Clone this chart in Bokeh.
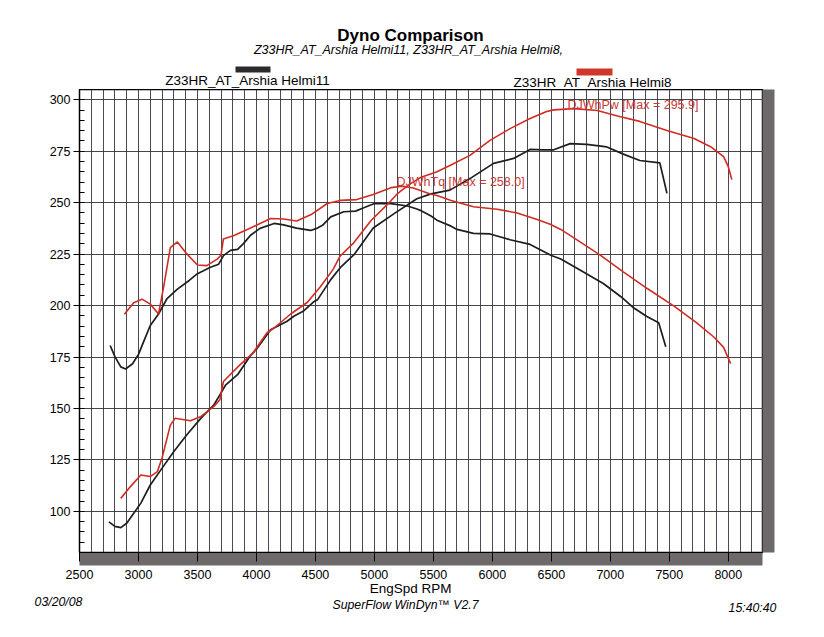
from bokeh.plotting import figure
from bokeh.layouts import column, row
from bokeh.models import (Label, SingleIntervalTicker, Range1d, LinearAxis,
                          CustomLabelingPolicy)
from bokeh.embed import file_html
from bokeh.resources import INLINE

# ---------------- data ----------------
h11_tq_rpm = [2760, 2800, 2850, 2890, 2950, 3000, 3050, 3100, 3170, 3240, 3330, 3430, 3500,
              3610, 3680, 3720, 3780, 3840, 3890, 3950, 4030, 4150, 4230, 4340, 4460, 4510,
              4560, 4630, 4740, 4840, 4910, 5000, 5140, 5280, 5360, 5400, 5480, 5530, 5650,
              5700, 5840, 5980, 6150, 6320, 6410, 6500, 6580, 6750, 6940, 7090, 7200, 7310,
              7410, 7470]
h11_tq = [180.6, 175.2, 170.2, 169.2, 171.7, 176.3, 183.3, 190.3, 195.9, 203.2, 208.0, 212.2,
          215.5, 218.6, 220.1, 224.3, 226.8, 227.3, 230.1, 234.2, 237.5, 239.9, 239.2, 237.6,
          236.5, 237.5, 239.0, 243.1, 245.6, 245.9, 247.5, 249.6, 249.5, 248.4, 246.9, 246.0,
          243.5, 241.5, 238.6, 237.0, 235.1, 234.8, 232.0, 229.7, 227.0, 224.3, 222.6, 217.0,
          210.7, 204.3, 198.8, 194.7, 191.6, 180.0]

h11_hp_rpm = [2750, 2800, 2850, 2900, 2930, 3020, 3100, 3200, 3300, 3410, 3530, 3640, 3700,
              3740, 3840, 3950, 4000, 4120, 4260, 4320, 4400, 4490, 4520, 4630, 4710, 4800,
              4830, 4990, 5170, 5360, 5480, 5640, 5810, 6010, 6180, 6320, 6430, 6520, 6660,
              6800, 6970, 7110, 7250, 7420, 7480]
h11_hp = [94.9, 92.7, 92.1, 94.2, 96.6, 104.0, 112.8, 121.0, 129.1, 137.2, 145.3, 151.8, 157.6,
          161.5, 166.4, 175.7, 178.8, 188.3, 192.4, 194.9, 197.4, 202.0, 203.0, 212.6, 218.4,
          223.3, 224.9, 237.7, 244.8, 251.9, 254.3, 256.1, 261.7, 269.1, 271.5, 275.9, 275.7,
          275.7, 278.7, 278.3, 277.1, 273.6, 270.5, 269.3, 254.5]

h8_tq_rpm = [2880, 2960, 3030, 3100, 3170, 3215, 3270, 3330, 3410, 3500, 3580, 3670, 3700,
             3720, 3810, 3950, 4120, 4230, 4340, 4460, 4600, 4710, 4850, 4990, 5140, 5240,
             5330, 5480, 5530, 5650, 5840, 6040, 6210, 6380, 6490, 6580, 6750, 6920, 7110,
             7310, 7540, 7730, 7880, 7960, 8020]
h8_tq = [195.8, 201.4, 203.1, 200.7, 195.9, 209.6, 228.2, 230.9, 225.1, 219.7, 219.4, 222.7,
         224.6, 232.4, 234.1, 237.7, 242.3, 242.1, 241.1, 244.1, 249.6, 251.1, 251.5, 254.0,
         257.3, 258.0, 257.1, 254.1, 253.5, 251.1, 248.0, 246.8, 245.0, 241.8, 239.5, 237.0,
         230.7, 224.3, 216.4, 208.4, 199.7, 191.7, 184.6, 179.7, 171.8]

h8_hp_rpm = [2850, 2930, 3020, 3100, 3160, 3200, 3270, 3310, 3440, 3530, 3640, 3690, 3720,
             3860, 3970, 4090, 4150, 4290, 4430, 4540, 4650, 4710, 4820, 4970, 5140, 5190,
             5300, 5390, 5530, 5640, 5810, 5980, 6150, 6320, 6460, 6520, 6690, 6890, 7060,
             7250, 7480, 7710, 7850, 7960, 8000, 8030]
h8_hp = [106.3, 111.9, 117.7, 116.9, 119.3, 125.9, 141.9, 145.2, 144.0, 146.1, 151.0, 154.2,
         163.1, 171.2, 176.9, 186.8, 189.1, 195.9, 201.5, 209.0, 217.6, 224.1, 230.2, 241.2,
         250.9, 254.1, 259.0, 262.2, 265.0, 268.1, 273.0, 280.3, 286.0, 290.9, 294.3, 295.1,
         295.7, 294.8, 292.1, 289.5, 285.1, 281.2, 277.2, 272.4, 267.5, 261.2]

series_names = ["Z33HR_AT_Arshia Helmi11", "Z33HR_AT_Arshia Helmi8"]
tq_note = "DJWhTq [Max = 258.0]"
hp_note = "DJWhPw [Max = 295.9]"

# ---------------- layout ----------------
W = 824
XMIN, XMAX = 2500, 8290
YMIN, YMAX = 80, 305
FL, FR = 79, 762          # frame left/right (page px)
FT, FB = 89, 553          # frame top/bottom (page px)
MAIN_BOTTOM = 581         # bottom of the main figure (page px)
SX = (FR - FL) / (XMAX - XMIN)
SY = (FB - FT) / (YMAX - YMIN)

def dx(px):
    return XMIN + (px - FL) / SX

def dy(py):
    return YMIN + (FB - py) / SY

FONT = "Liberation Sans"
BLACK = "#1e1e1e"
RED = "#d22c22"
SHADOW = "#6d6869"

HIDE_LABELS_JS = """
if (typeof indices.clear === 'function') { indices.clear(); return indices; }
for (const i of Array.from(indices)) { indices.unset(i); }
return indices;
"""

def no_align(f):
    if "frame_align" in f.properties():
        f.frame_align = False
        return True
    return False

def blank_fig(top, bottom):
    f = figure(width=W, height=bottom - top, output_backend="svg", toolbar_location=None,
               x_range=Range1d(0, W), y_range=Range1d(bottom, top),
               x_axis_location=None, y_axis_location=None, min_border=0)
    f.grid.visible = False
    f.outline_line_color = None
    f.background_fill_color = "white"
    f.border_fill_color = "white"
    return f

def add_label(f, text, x, y, size="12px", style="normal", color="black", align="center"):
    f.add_layout(Label(x=x, y=y, text=text, text_font=FONT, text_font_size=size,
                       text_font_style=style, text_color=color, text_align=align,
                       text_baseline="middle"))

# ---------------- header ----------------
head = blank_fig(0, FT)
add_label(head, "Dyno Comparison", 410, 35, size="17px", style="bold")
add_label(head, ", ".join(series_names) + ",", 408, 49, size="12.5px", style="italic")
head.quad(left=[235, 576], right=[270, 612], top=[66, 68], bottom=[72, 75],
          fill_color=["#2b2b2b", "#d0362a"], line_color=None)
add_label(head, series_names[0], 247, 80, size="13.5px")
add_label(head, series_names[1], 592, 82, size="13.5px")

# ---------------- main chart ----------------
p = figure(width=W, height=MAIN_BOTTOM - FT, output_backend="svg", toolbar_location=None,
           x_range=Range1d(XMIN, XMAX), y_range=Range1d(YMIN, YMAX),
           min_border_left=FL, min_border_right=W - FR,
           min_border_top=0, min_border_bottom=MAIN_BOTTOM - FB)
p.background_fill_color = "white"
p.border_fill_color = "white"
p.outline_line_color = "black"
p.outline_line_width = 1.5

p.xgrid.ticker = SingleIntervalTicker(interval=100)
p.ygrid.ticker = SingleIntervalTicker(interval=25)
p.xgrid.grid_line_color = "#2a2a3c"
p.xgrid.grid_line_alpha = 0.85
p.ygrid.grid_line_color = "#333333"
p.ygrid.grid_line_alpha = 0.9

# y axis
p.yaxis.ticker = SingleIntervalTicker(interval=25, num_minor_ticks=5)
p.yaxis.major_label_text_font = FONT
p.yaxis.major_label_text_font_size = "12.5px"
p.yaxis.major_label_text_color = "black"
p.yaxis.axis_line_color = "black"
p.yaxis.major_tick_line_color = "black"
p.yaxis.major_tick_in = 0
p.yaxis.major_tick_out = 6
p.yaxis.minor_tick_in = 5
p.yaxis.minor_tick_out = 0
p.yaxis.minor_tick_line_color = "black"
p.yaxis.major_label_standoff = 3

# x axis nearest the frame: grey shadow band with the tick marks, labels hidden
ax1 = p.xaxis[0]
ax1.ticker = SingleIntervalTicker(interval=500, num_minor_ticks=0)
ax1.major_tick_in = 0
ax1.major_tick_out = 9
ax1.major_tick_line_color = "black"
ax1.minor_tick_line_color = None
ax1.axis_line_color = "black"
ax1.major_label_text_font_size = "1px"
ax1.major_label_standoff = 0
ax1.major_label_policy = CustomLabelingPolicy(code=HIDE_LABELS_JS)
ax1.background_fill_color = SHADOW
ax1.background_fill_alpha = 1

# x axis with the tick labels
ax2 = LinearAxis(ticker=SingleIntervalTicker(interval=500, num_minor_ticks=0))
ax2.major_tick_in = 0
ax2.major_tick_out = 0
ax2.major_tick_line_color = None
ax2.minor_tick_line_color = None
ax2.axis_line_color = None
ax2.major_label_text_font = FONT
ax2.major_label_text_font_size = "12.5px"
ax2.major_label_text_color = "black"
ax2.major_label_standoff = 4
p.add_layout(ax2, "below")

# right shadow band
axr = LinearAxis(ticker=SingleIntervalTicker(interval=25, num_minor_ticks=0))
axr.major_tick_in = 0
axr.major_tick_out = 7
axr.major_tick_line_color = SHADOW
axr.minor_tick_line_color = None
axr.axis_line_color = None
axr.major_label_text_font_size = "1px"
axr.major_label_standoff = 0
axr.major_label_policy = CustomLabelingPolicy(code=HIDE_LABELS_JS)
axr.background_fill_color = SHADOW
axr.background_fill_alpha = 1
p.add_layout(axr, "right")

# curves
p.line(h11_tq_rpm, h11_tq, line_color=BLACK, line_width=1.7)
p.line(h11_hp_rpm, h11_hp, line_color=BLACK, line_width=1.7)
p.line(h8_tq_rpm, h8_tq, line_color=RED, line_width=1.6)
p.line(h8_hp_rpm, h8_hp, line_color=RED, line_width=1.6)

add_label(p, hp_note, dx(567), dy(105), size="12.5px", color="#c83a34", align="left")
add_label(p, tq_note, dx(396), dy(182), size="12.5px", color="#c83a34", align="left")

# ---------------- footer ----------------
foot = blank_fig(MAIN_BOTTOM, 637)
add_label(foot, "EngSpd  RPM", 412, 588, size="13.5px")
add_label(foot, "03/20/08", 58, 601, size="12.3px", style="italic")
add_label(foot, "SuperFlow WinDyn\u2122 V2.7", 405, 604, size="12.3px", style="italic")
add_label(foot, "15:40:40", 752, 607, size="12.3px", style="italic")

# only the header and footer opt out of frame alignment
ok = all([no_align(head), no_align(foot)])
if ok:
    layout = column(head, p, foot, spacing=0)
else:
    layout = column(head, row(p), foot, spacing=0)
open("out.html", "w").write(file_html(layout, INLINE))
